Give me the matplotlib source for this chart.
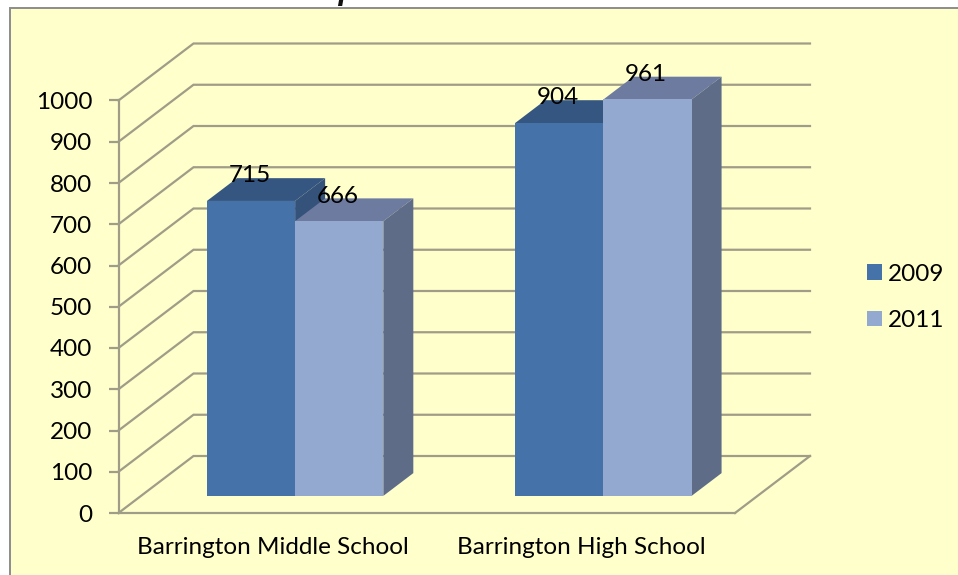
import matplotlib
matplotlib.use('Agg')
import matplotlib.pyplot as plt
from matplotlib.patches import Rectangle

# data
schools = ['Barrington Middle School', 'Barrington High School']
years = ['2009', '2011']
students_2009 = [715, 904]
students_2011 = [666, 961]
y_ticks = [0, 100, 200, 300, 400, 500, 600, 700, 800, 900, 1000]

W, H = 958, 575
BG = '#FFFFCC'
GRID = '#9F9C87'
DEPTH_X = 75 / 308.25   # depth of the box, in category units
DEPTH_Y = 57 / 0.4125   # depth of the box, in students
BAR_W = 88.2 / 308.25
BAR_D0, BAR_D1 = 0.30, 0.70
FS = 17.5

front = {'2009': '#4572A8', '2011': '#93A9CF'}
top = {'2009': '#355681', '2011': '#6E7BA0'}
side = {'2009': '#34527A', '2011': '#5E6C88'}

plt.rcParams['font.family'] = ['Lato', 'DejaVu Sans']

fig = plt.figure(figsize=(W / 100, H / 100), dpi=100, facecolor='white')

# pale yellow chart area with grey edge, runs off the picture right and bottom
fig.add_artist(Rectangle((9.5 / W, -0.02), 1.02, 1 - 7.5 / H + 0.02, transform=fig.transFigure,
                         facecolor=BG, edgecolor='#8C8C8C', linewidth=1.4, zorder=-1))

# title is cut by the top edge in the original too
fig.text(35 / W, 1 + 1 / H, 'Number of Students per School', fontsize=22.2, style='italic',
         fontweight='bold', color='#111111', va='baseline', ha='left',
         family=['Liberation Sans', 'DejaVu Sans'])

ax = fig.add_axes([118.5 / W, 1 - 513 / H, (735 - 118.5) / W, 412.5 / H])
ax.set_xlim(0, 2)
ax.set_ylim(0, 1000)
ax.patch.set_alpha(0)
for s in ['top', 'right']:
    ax.spines[s].set_visible(False)
for s in ['left', 'bottom']:
    ax.spines[s].set_color(GRID)
    ax.spines[s].set_linewidth(1.6)


def shift(x, y, d):
    return x + d * DEPTH_X, y + d * DEPTH_Y


# walls and floor
for v in y_ticks:
    x0, y0 = shift(0, v, 0)
    x1, y1 = shift(0, v, 1)
    x2, y2 = shift(2, v, 1)
    ax.plot([x0, x1, x2], [y0, y1, y2], color=GRID, lw=1.6, clip_on=False, zorder=1,
            solid_joinstyle='miter')
x0, y0 = shift(2, 0, 0)
x1, y1 = shift(2, 0, 1)
ax.plot([x0, x1], [y0, y1], color=GRID, lw=1.6, clip_on=False, zorder=1)


def draw_bar(left, value, year, z):
    right = left + BAR_W
    xa, ya = shift(left, 0, BAR_D0)
    ax.bar(xa, value, width=BAR_W, bottom=ya, align='edge', color=front[year], linewidth=0, zorder=z + 0.2,
           clip_on=False)
    # top face
    pts = [shift(left, value, BAR_D0), shift(right, value, BAR_D0),
           shift(right, value, BAR_D1), shift(left, value, BAR_D1)]
    ax.fill([p[0] for p in pts], [p[1] for p in pts], color=top[year], lw=0, zorder=z, clip_on=False)
    # side face
    pts = [shift(right, 0, BAR_D0), shift(right, value, BAR_D0),
           shift(right, value, BAR_D1), shift(right, 0, BAR_D1)]
    ax.fill([p[0] for p in pts], [p[1] for p in pts], color=side[year], lw=0, zorder=z, clip_on=False)


for i, (a, b) in enumerate(zip(students_2009, students_2011)):
    centre = i + 0.5
    draw_bar(centre - BAR_W, a, '2009', 2)
    draw_bar(centre, b, '2011', 3)
    # value labels sit just over the back edge of each top
    xa, ya = shift(centre - BAR_W / 2, a, BAR_D1 * 0.5)
    xb, yb = shift(centre + BAR_W / 2, b, BAR_D1 * 0.5)
    ax.text(xa - 0.016, ya + 54, str(a), ha='center', va='center', fontsize=FS, color='black', zorder=5)
    ax.text(xb - 0.016, yb + 54, str(b), ha='center', va='center', fontsize=FS, color='black', zorder=5)

ax.set_yticks(y_ticks)
ax.set_yticklabels([str(v) for v in y_ticks])
ax.set_xticks([0.5, 1.5])
ax.set_xticklabels(schools)
ax.tick_params(axis='y', length=7, width=1.6, color=GRID, labelsize=FS, pad=12, labelcolor='black')
ax.tick_params(axis='x', length=0, labelsize=FS, pad=17, labelcolor='black')

# legend
handles = [Rectangle((0, 0), 1, 1, color=front[y], lw=0) for y in years]
fig.legend(handles, years, loc='center left', bbox_to_anchor=(867 / W, 1 - 297.5 / H), frameon=False,
           fontsize=FS, handlelength=0.62, handleheight=0.62, handletextpad=0.25, labelspacing=1.04,
           borderpad=0, borderaxespad=0)

fig.savefig('out.png', dpi=100, facecolor='white')
